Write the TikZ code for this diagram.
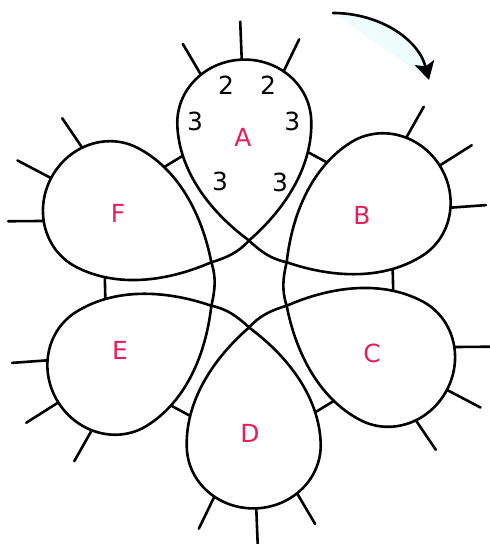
\documentclass[tikz,border=0pt]{standalone}
\usepackage{fontspec}
\setmainfont{DejaVu Sans}
\usetikzlibrary{arrows.meta}
\definecolor{lbl}{RGB}{232,30,90}
\definecolor{faint}{RGB}{238,252,252}
\begin{document}
\begin{tikzpicture}[x=1bp,y=1bp,
  outline/.style={line width=2.6bp, line join=round, line cap=round},
  petalshape/.style={outline, fill=white},
  lbltext/.style={text=lbl, font=\fontsize{25}{30}\selectfont, inner sep=0pt},
  numtext/.style={text=black, font=\fontsize{25}{30}\selectfont, inner sep=0pt}]
\useasboundingbox (0,0) rectangle (490,544);
\coordinate (O) at (249,260);
% connectors and ticks (behind petals)
\foreach \t in {90,30,-30,-90,-150,150} {
  \begin{scope}[shift={(O)}, rotate=\t-90]
    \draw[outline, rotate=121.5] (144,-20) -- (144,20);
    \begin{scope}[shift={(0,43.5)}, rotate=2.3, shift={(0,-43.5)}]
      \draw[outline] (0,218) -- (0,262.5);
      \draw[outline] (39.4,207.4) -- (58.2,242.5);
      \draw[outline] (-39.4,207.4) -- (-58.2,242.5);
    \end{scope}
  \end{scope}
}
% petals
\foreach \t in {90,30,-30,-90,-150,150} {
  \begin{scope}[shift={(O)}, rotate=\t-90]
    \begin{scope}[shift={(0,43.5)}, rotate=2.3, shift={(0,-43.5)}]
      \draw[petalshape] (0,43.5) .. controls (39,74.75) and (67,116.5) .. (67,161.5)
        .. controls (67,196.5) and (37,224.5) .. (0,224.5)
        .. controls (-37,224.5) and (-67,196.5) .. (-67,161.5)
        .. controls (-67,116.5) and (-39,74.75) .. cycle;
    \end{scope}
    \draw[outline] (90:43.5) .. controls +(228.3:16) and +(16.3:16) .. (150:43.5);
  \end{scope}
}
% labels
\node[lbltext] (la) at (243,407) {A};
\node[lbltext] (lb) at (362,329) {B};
\node[lbltext] (lc) at (372,191) {C};
\node[lbltext] (ld) at (250,111) {D};
\node[lbltext] (le) at (120,194) {E};
\node[lbltext] (lf) at (118,331) {F};
% numbers in A
\node[numtext] (n1) at (226,459) {2};
\node[numtext] (n2) at (268,459) {2};
\node[numtext] (n3) at (195,422.3) {3};
\node[numtext] (n4) at (292.3,422.3) {3};
\node[numtext] (n5) at (220,362.3) {3};
\node[numtext] (n6) at (280,361.3) {3};
% rotation arrow
\coordinate (arrS) at (333,531);
\coordinate (arrE) at (429,464);
\fill[faint] (arrS) .. controls (378,531) and (418,506) .. (arrE) -- cycle;
\draw[outline, -{Stealth[length=18bp, width=20bp, inset=4bp]}] (arrS) .. controls (378,531) and (418,506) .. (arrE);
\end{tikzpicture}
\end{document}
